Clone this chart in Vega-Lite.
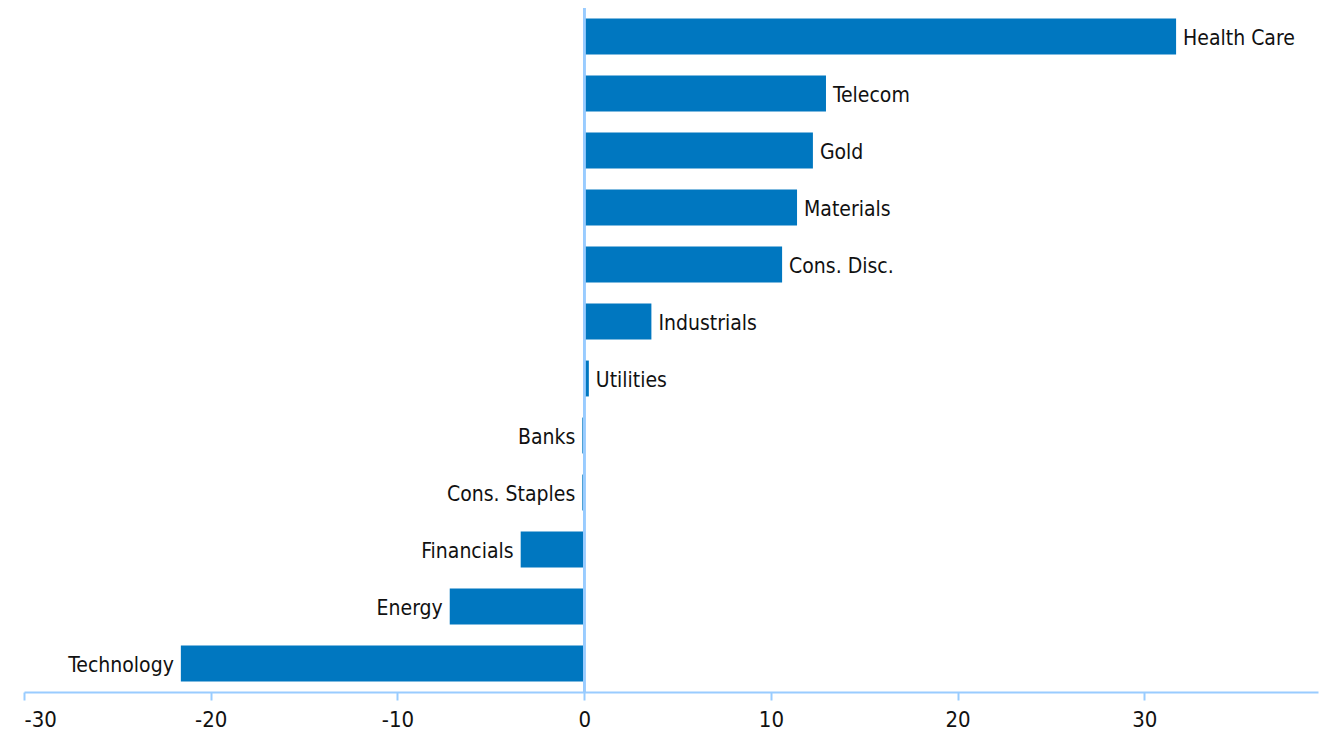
{
  "$schema": "https://vega.github.io/schema/vega-lite/v6.json",
  "width": 1294,
  "height": 684,
  "autosize": {"type": "none"},
  "padding": {"left": 24, "top": 8, "right": 2, "bottom": 56},
  "background": "white",
  "config": {"view": {"stroke": null}, "font": "DejaVu Sans Condensed"},
  "data": {"values": [
    {"sector": "Health Care", "value": 31.7},
    {"sector": "Telecom", "value": 12.95},
    {"sector": "Gold", "value": 12.25},
    {"sector": "Materials", "value": 11.4},
    {"sector": "Cons. Disc.", "value": 10.6},
    {"sector": "Industrials", "value": 3.6},
    {"sector": "Utilities", "value": 0.25},
    {"sector": "Banks", "value": -0.1},
    {"sector": "Cons. Staples", "value": -0.1},
    {"sector": "Financials", "value": -3.4},
    {"sector": "Energy", "value": -7.2},
    {"sector": "Technology", "value": -21.6}
  ]},
  "encoding": {
    "y": {"field": "sector", "type": "nominal", "sort": null, "axis": null,
      "scale": {"paddingInner": 0.37, "paddingOuter": 0.185}},
    "x": {"field": "value", "type": "quantitative",
      "scale": {"domain": [-30, 39.3], "nice": false, "zero": false},
      "axis": {"title": null, "values": [-30, -20, -10, 0, 10, 20, 30], "grid": false,
        "labelExpr": "'' + datum.value",
        "domainColor": "#99CCFF", "domainWidth": 2, "tickColor": "#99CCFF", "tickWidth": 2, "tickSize": 8,
        "labelFontSize": 22, "labelColor": "#111111", "labelPadding": 9, "labelFont": "DejaVu Sans Condensed"}}
  },
  "layer": [
    {"mark": {"type": "bar", "color": "#0077C0"}},
    {"mark": {"type": "rule", "color": "#99CCFF", "strokeWidth": 2},
      "encoding": {"x": {"datum": 0}, "y": null}},
    {"transform": [{"filter": "datum.value >= 0"}],
      "mark": {"type": "text", "align": "left", "baseline": "middle", "dx": 7, "dy": 2, "fontSize": 21, "color": "#111111"},
      "encoding": {"text": {"field": "sector"}}},
    {"transform": [{"filter": "datum.value < 0"}],
      "mark": {"type": "text", "align": "right", "baseline": "middle", "dx": -7, "dy": 2, "fontSize": 21, "color": "#111111"},
      "encoding": {"text": {"field": "sector"}}}
  ]
}
